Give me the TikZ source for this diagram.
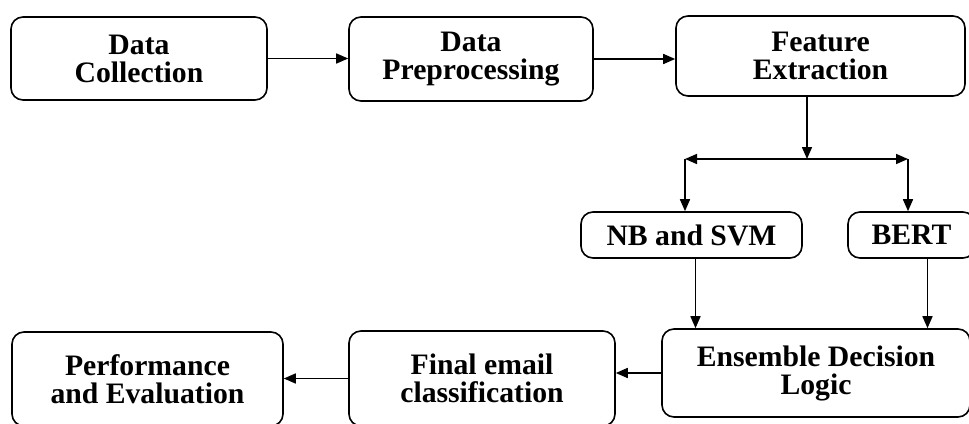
\documentclass[tikz,border=0pt]{standalone}
\usepackage{fontspec}
\setmainfont{Liberation Serif}
\usetikzlibrary{arrows.meta}
\tikzset{
  boite/.style={draw, line width=0.8pt, rounded corners=6pt, align=center, inner sep=0pt,
    font=\fontsize{14.85}{14}\selectfont\bfseries},
  fleche/.style={line width=0.8pt, -{Triangle[length=6pt,width=5pt]}}
}
\begin{document}
\begin{tikzpicture}[x=0.5pt, y=-0.5pt]
  \clip (0,0) rectangle (969,423);
  \fill[white] (0,0) rectangle (969,423);
  \foreach \nom/\cx/\cy/\w/\h/\texte in {
      coll/139/58.5/256/83/{Data\\Collection},
      prep/471/59/244/84/{Data\\Preprocessing},
      feat/820.5/56/289/80/{Feature\\Extraction},
      nb/691.5/235/221/46/{NB and SVM},
      bert/911.5/235/127/46/{BERT},
      ens/816/373/308/88/{Ensemble Decision\\Logic},
      final/482/378.5/266/95/{Final email\\classification},
      perf/147.5/379/271/94/{Performance\\and Evaluation}} {
    \node[boite, minimum width=\w*0.5pt, minimum height=\h*0.5pt] (\nom) at (\cx,\cy) {\texte};
  }

  \coordinate (fourche) at (807,159);
  \coordinate (fourcheG) at (685,159);
  \coordinate (fourcheD) at (908,159);

  \draw[fleche] (coll.east) -- (coll.east -| prep.west);
  \draw[fleche] (prep.east) -- (prep.east -| feat.west);
  \draw[fleche] (feat.south -| fourche) -- (fourche);
  \draw[fleche, {Triangle[length=6pt,width=5pt]}-{Triangle[length=6pt,width=5pt]}] (fourcheG) -- (fourcheD);
  \draw[fleche] (fourcheG) -- (fourcheG |- nb.north);
  \draw[fleche] (fourcheD) -- (fourcheD |- bert.north);
  \draw[fleche] ([xshift=2pt]nb.south) -- ([xshift=2pt]nb.south |- ens.north);
  \draw[fleche] ([xshift=8pt]bert.south) -- ([xshift=8pt]bert.south |- ens.north);
  \draw[fleche] (ens.west) -- (ens.west -| final.east);
  \draw[fleche] (final.west) -- (final.west -| perf.east);
\end{tikzpicture}
\end{document}
